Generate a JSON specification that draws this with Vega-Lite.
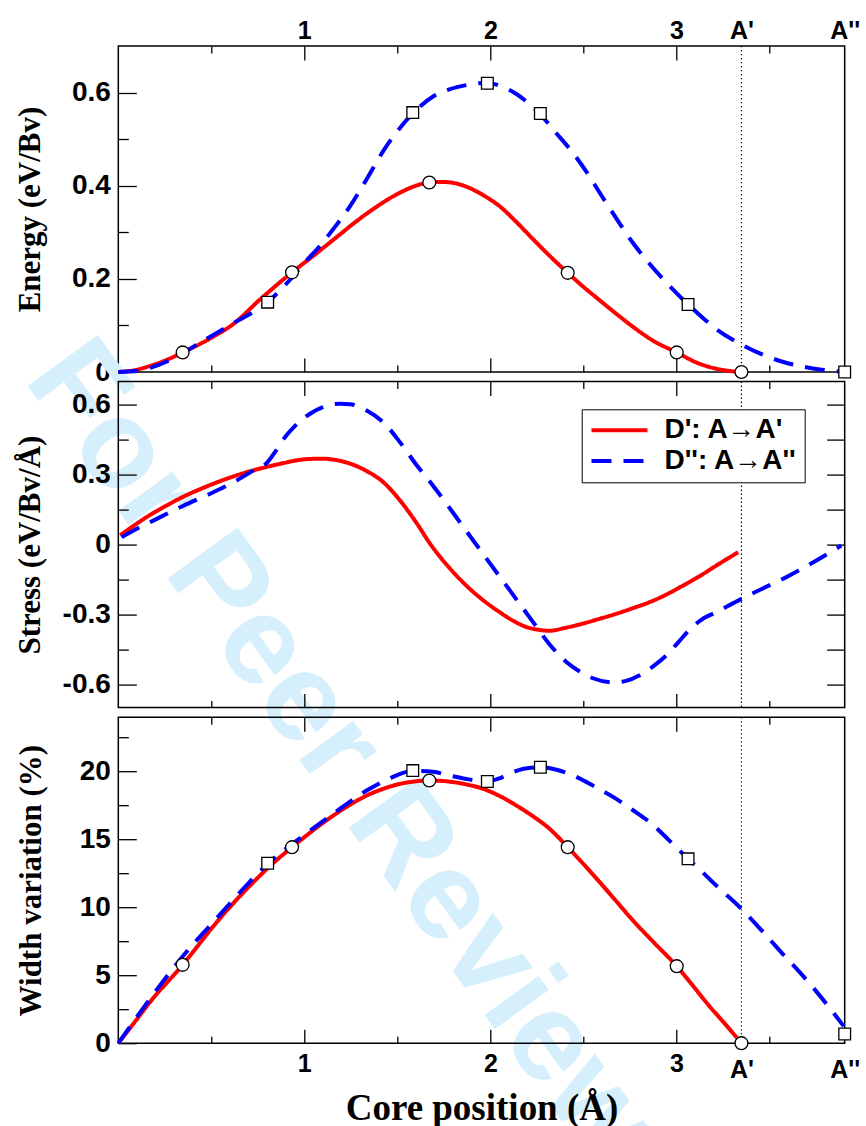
{
"$schema": "https://vega.github.io/schema/vega-lite/v6.json",
"background": "white",
"padding": {"left": 1.3, "top": 17, "right": 0, "bottom": 0},
"bounds": "flush",
"spacing": 9.6,
"resolve": {"scale": {"color": "independent", "strokeDash": "independent", "shape": "independent", "size": "independent"}},
"config": {
  "view": {"stroke": "black", "strokeWidth": 1.5},
  "axis": {"grid": false, "domain": false, "tickColor": "black", "tickWidth": 1.3, "labelColor": "black", "titleColor": "black", "labelFont": "Liberation Sans", "labelFontWeight": "bold", "labelFontSize": 28, "titleFont": "Liberation Serif", "titleFontWeight": "bold", "titleFontSize": 31, "labelOverlap": false, "labelFlush": false, "labelBound": false},
  "axisX": {"labelFontSize": 25}
},
"datasets": {
  "wmark": [{"text": "For Peer Review", "x": 1.035, "y": -0.867}],
  "refs": [{"label": "A'", "x": 3.35}],
  "energyCurve": [
    {"s": "D': A→A'", "x": 0, "y": 0}, {"s": "D': A→A'", "x": 0.09, "y": 0.004}, {"s": "D': A→A'", "x": 0.17, "y": 0.013}, {"s": "D': A→A'", "x": 0.26, "y": 0.026}, {"s": "D': A→A'", "x": 0.346, "y": 0.042}, {"s": "D': A→A'", "x": 0.48, "y": 0.069}, {"s": "D': A→A'", "x": 0.618, "y": 0.103}, {"s": "D': A→A'", "x": 0.76, "y": 0.155}, {"s": "D': A→A'", "x": 0.934, "y": 0.214}, {"s": "D': A→A'", "x": 1.05, "y": 0.25}, {"s": "D': A→A'", "x": 1.156, "y": 0.284}, {"s": "D': A→A'", "x": 1.335, "y": 0.34}, {"s": "D': A→A'", "x": 1.514, "y": 0.385}, {"s": "D': A→A'", "x": 1.6, "y": 0.4}, {"s": "D': A→A'", "x": 1.672, "y": 0.407}, {"s": "D': A→A'", "x": 1.75, "y": 0.408}, {"s": "D': A→A'", "x": 1.871, "y": 0.398}, {"s": "D': A→A'", "x": 1.96, "y": 0.38}, {"s": "D': A→A'", "x": 2.05, "y": 0.356}, {"s": "D': A→A'", "x": 2.14, "y": 0.322}, {"s": "D': A→A'", "x": 2.23, "y": 0.285}, {"s": "D': A→A'", "x": 2.32, "y": 0.249}, {"s": "D': A→A'", "x": 2.416, "y": 0.213}, {"s": "D': A→A'", "x": 2.5, "y": 0.183}, {"s": "D': A→A'", "x": 2.588, "y": 0.154}, {"s": "D': A→A'", "x": 2.677, "y": 0.125}, {"s": "D': A→A'", "x": 2.767, "y": 0.097}, {"s": "D': A→A'", "x": 2.88, "y": 0.066}, {"s": "D': A→A'", "x": 3.002, "y": 0.042}, {"s": "D': A→A'", "x": 3.11, "y": 0.02}, {"s": "D': A→A'", "x": 3.215, "y": 0.007}, {"s": "D': A→A'", "x": 3.29, "y": 0.002}, {"s": "D': A→A'", "x": 3.35, "y": 0},
    {"s": "D'': A→A''", "x": 0, "y": 0}, {"s": "D'': A→A''", "x": 0.09, "y": 0.002}, {"s": "D'': A→A''", "x": 0.171, "y": 0.009}, {"s": "D'': A→A''", "x": 0.3, "y": 0.03}, {"s": "D'': A→A''", "x": 0.44, "y": 0.063}, {"s": "D'': A→A''", "x": 0.62, "y": 0.105}, {"s": "D'': A→A''", "x": 0.803, "y": 0.15}, {"s": "D'': A→A''", "x": 0.934, "y": 0.203}, {"s": "D'': A→A''", "x": 1.013, "y": 0.24}, {"s": "D'': A→A''", "x": 1.067, "y": 0.263}, {"s": "D'': A→A''", "x": 1.156, "y": 0.307}, {"s": "D'': A→A''", "x": 1.246, "y": 0.356}, {"s": "D'': A→A''", "x": 1.335, "y": 0.414}, {"s": "D'': A→A''", "x": 1.425, "y": 0.475}, {"s": "D'': A→A''", "x": 1.51, "y": 0.522}, {"s": "D'': A→A''", "x": 1.583, "y": 0.555}, {"s": "D'': A→A''", "x": 1.694, "y": 0.592}, {"s": "D'': A→A''", "x": 1.78, "y": 0.607}, {"s": "D'': A→A''", "x": 1.871, "y": 0.616}, {"s": "D'': A→A''", "x": 1.984, "y": 0.621}, {"s": "D'': A→A''", "x": 2.06, "y": 0.613}, {"s": "D'': A→A''", "x": 2.14, "y": 0.597}, {"s": "D'': A→A''", "x": 2.2, "y": 0.579}, {"s": "D'': A→A''", "x": 2.269, "y": 0.553}, {"s": "D'': A→A''", "x": 2.35, "y": 0.515}, {"s": "D'': A→A''", "x": 2.445, "y": 0.47}, {"s": "D'': A→A''", "x": 2.52, "y": 0.428}, {"s": "D'': A→A''", "x": 2.588, "y": 0.385}, {"s": "D'': A→A''", "x": 2.677, "y": 0.33}, {"s": "D'': A→A''", "x": 2.767, "y": 0.277}, {"s": "D'': A→A''", "x": 2.857, "y": 0.232}, {"s": "D'': A→A''", "x": 2.946, "y": 0.192}, {"s": "D'': A→A''", "x": 3.063, "y": 0.145}, {"s": "D'': A→A''", "x": 3.14, "y": 0.117}, {"s": "D'': A→A''", "x": 3.215, "y": 0.092}, {"s": "D'': A→A''", "x": 3.35, "y": 0.059}, {"s": "D'': A→A''", "x": 3.484, "y": 0.034}, {"s": "D'': A→A''", "x": 3.58, "y": 0.021}, {"s": "D'': A→A''", "x": 3.663, "y": 0.013}, {"s": "D'': A→A''", "x": 3.78, "y": 0.005}, {"s": "D'': A→A''", "x": 3.905, "y": 0}
  ],
  "energyPts": [
    {"s": "D': A→A'", "x": 0.346, "y": 0.042}, {"s": "D': A→A'", "x": 0.934, "y": 0.214}, {"s": "D': A→A'", "x": 1.672, "y": 0.407}, {"s": "D': A→A'", "x": 2.416, "y": 0.213}, {"s": "D': A→A'", "x": 3.002, "y": 0.042}, {"s": "D': A→A'", "x": 3.35, "y": 0},
    {"s": "D'': A→A''", "x": 0.803, "y": 0.15}, {"s": "D'': A→A''", "x": 1.583, "y": 0.557}, {"s": "D'': A→A''", "x": 1.984, "y": 0.62}, {"s": "D'': A→A''", "x": 2.269, "y": 0.555}, {"s": "D'': A→A''", "x": 3.063, "y": 0.145}, {"s": "D'': A→A''", "x": 3.905, "y": 0}
  ],
  "stressCurve": [
    {"s": "D': A→A'", "x": 0.01, "y": 0.04}, {"s": "D': A→A'", "x": 0.09, "y": 0.085}, {"s": "D': A→A'", "x": 0.17, "y": 0.127}, {"s": "D': A→A'", "x": 0.26, "y": 0.168}, {"s": "D': A→A'", "x": 0.35, "y": 0.206}, {"s": "D': A→A'", "x": 0.44, "y": 0.238}, {"s": "D': A→A'", "x": 0.529, "y": 0.267}, {"s": "D': A→A'", "x": 0.62, "y": 0.293}, {"s": "D': A→A'", "x": 0.708, "y": 0.315}, {"s": "D': A→A'", "x": 0.8, "y": 0.334}, {"s": "D': A→A'", "x": 0.887, "y": 0.35}, {"s": "D': A→A'", "x": 0.96, "y": 0.362}, {"s": "D': A→A'", "x": 1.031, "y": 0.368}, {"s": "D': A→A'", "x": 1.1, "y": 0.369}, {"s": "D': A→A'", "x": 1.156, "y": 0.365}, {"s": "D': A→A'", "x": 1.245, "y": 0.348}, {"s": "D': A→A'", "x": 1.335, "y": 0.316}, {"s": "D': A→A'", "x": 1.425, "y": 0.268}, {"s": "D': A→A'", "x": 1.514, "y": 0.19}, {"s": "D': A→A'", "x": 1.604, "y": 0.092}, {"s": "D': A→A'", "x": 1.676, "y": 0.004}, {"s": "D': A→A'", "x": 1.78, "y": -0.1}, {"s": "D': A→A'", "x": 1.871, "y": -0.176}, {"s": "D': A→A'", "x": 1.96, "y": -0.238}, {"s": "D': A→A'", "x": 2.05, "y": -0.29}, {"s": "D': A→A'", "x": 2.12, "y": -0.326}, {"s": "D': A→A'", "x": 2.194, "y": -0.354}, {"s": "D': A→A'", "x": 2.26, "y": -0.366}, {"s": "D': A→A'", "x": 2.319, "y": -0.37}, {"s": "D': A→A'", "x": 2.4, "y": -0.358}, {"s": "D': A→A'", "x": 2.498, "y": -0.339}, {"s": "D': A→A'", "x": 2.59, "y": -0.318}, {"s": "D': A→A'", "x": 2.677, "y": -0.297}, {"s": "D': A→A'", "x": 2.77, "y": -0.272}, {"s": "D': A→A'", "x": 2.857, "y": -0.247}, {"s": "D': A→A'", "x": 2.95, "y": -0.213}, {"s": "D': A→A'", "x": 3.036, "y": -0.176}, {"s": "D': A→A'", "x": 3.13, "y": -0.133}, {"s": "D': A→A'", "x": 3.215, "y": -0.09}, {"s": "D': A→A'", "x": 3.28, "y": -0.058}, {"s": "D': A→A'", "x": 3.332, "y": -0.033},
    {"s": "D'': A→A''", "x": 0.018, "y": 0.032}, {"s": "D'': A→A''", "x": 0.1, "y": 0.068}, {"s": "D'': A→A''", "x": 0.188, "y": 0.103}, {"s": "D'': A→A''", "x": 0.35, "y": 0.167}, {"s": "D'': A→A''", "x": 0.511, "y": 0.225}, {"s": "D'': A→A''", "x": 0.62, "y": 0.268}, {"s": "D'': A→A''", "x": 0.726, "y": 0.318}, {"s": "D'': A→A''", "x": 0.8, "y": 0.352}, {"s": "D'': A→A''", "x": 0.845, "y": 0.4}, {"s": "D'': A→A''", "x": 0.887, "y": 0.452}, {"s": "D'': A→A''", "x": 0.95, "y": 0.51}, {"s": "D'': A→A''", "x": 1.031, "y": 0.562}, {"s": "D'': A→A''", "x": 1.1, "y": 0.59}, {"s": "D'': A→A''", "x": 1.192, "y": 0.605}, {"s": "D'': A→A''", "x": 1.246, "y": 0.603}, {"s": "D'': A→A''", "x": 1.335, "y": 0.576}, {"s": "D'': A→A''", "x": 1.425, "y": 0.525}, {"s": "D'': A→A''", "x": 1.514, "y": 0.44}, {"s": "D'': A→A''", "x": 1.6, "y": 0.345}, {"s": "D'': A→A''", "x": 1.692, "y": 0.253}, {"s": "D'': A→A''", "x": 1.871, "y": 0.058}, {"s": "D'': A→A''", "x": 2.05, "y": -0.137}, {"s": "D'': A→A''", "x": 2.23, "y": -0.333}, {"s": "D'': A→A''", "x": 2.32, "y": -0.43}, {"s": "D'': A→A''", "x": 2.409, "y": -0.504}, {"s": "D'': A→A''", "x": 2.48, "y": -0.545}, {"s": "D'': A→A''", "x": 2.552, "y": -0.574}, {"s": "D'': A→A''", "x": 2.66, "y": -0.592}, {"s": "D'': A→A''", "x": 2.73, "y": -0.585}, {"s": "D'': A→A''", "x": 2.803, "y": -0.561}, {"s": "D'': A→A''", "x": 2.88, "y": -0.52}, {"s": "D'': A→A''", "x": 2.946, "y": -0.476}, {"s": "D'': A→A''", "x": 3.01, "y": -0.42}, {"s": "D'': A→A''", "x": 3.072, "y": -0.365}, {"s": "D'': A→A''", "x": 3.13, "y": -0.325}, {"s": "D'': A→A''", "x": 3.215, "y": -0.29}, {"s": "D'': A→A''", "x": 3.35, "y": -0.233}, {"s": "D'': A→A''", "x": 3.46, "y": -0.19}, {"s": "D'': A→A''", "x": 3.574, "y": -0.147}, {"s": "D'': A→A''", "x": 3.66, "y": -0.11}, {"s": "D'': A→A''", "x": 3.753, "y": -0.068}, {"s": "D'': A→A''", "x": 3.887, "y": -0.004}
  ],
  "widthCurve": [
    {"s": "D': A→A'", "x": 0, "y": 0}, {"s": "D': A→A'", "x": 0.085, "y": 1.5}, {"s": "D': A→A'", "x": 0.17, "y": 3.02}, {"s": "D': A→A'", "x": 0.346, "y": 5.77}, {"s": "D': A→A'", "x": 0.529, "y": 8.91}, {"s": "D': A→A'", "x": 0.708, "y": 11.6}, {"s": "D': A→A'", "x": 0.82, "y": 13.1}, {"s": "D': A→A'", "x": 0.934, "y": 14.43}, {"s": "D': A→A'", "x": 1.045, "y": 15.65}, {"s": "D': A→A'", "x": 1.156, "y": 16.76}, {"s": "D': A→A'", "x": 1.245, "y": 17.55}, {"s": "D': A→A'", "x": 1.335, "y": 18.23}, {"s": "D': A→A'", "x": 1.425, "y": 18.73}, {"s": "D': A→A'", "x": 1.514, "y": 19.09}, {"s": "D': A→A'", "x": 1.6, "y": 19.28}, {"s": "D': A→A'", "x": 1.672, "y": 19.34}, {"s": "D': A→A'", "x": 1.75, "y": 19.3}, {"s": "D': A→A'", "x": 1.871, "y": 19.05}, {"s": "D': A→A'", "x": 1.961, "y": 18.73}, {"s": "D': A→A'", "x": 2.05, "y": 18.2}, {"s": "D': A→A'", "x": 2.14, "y": 17.5}, {"s": "D': A→A'", "x": 2.23, "y": 16.7}, {"s": "D': A→A'", "x": 2.319, "y": 15.78}, {"s": "D': A→A'", "x": 2.416, "y": 14.43}, {"s": "D': A→A'", "x": 2.5, "y": 13.2}, {"s": "D': A→A'", "x": 2.588, "y": 11.86}, {"s": "D': A→A'", "x": 2.677, "y": 10.45}, {"s": "D': A→A'", "x": 2.767, "y": 9.03}, {"s": "D': A→A'", "x": 2.88, "y": 7.4}, {"s": "D': A→A'", "x": 3.002, "y": 5.67}, {"s": "D': A→A'", "x": 3.085, "y": 4.3}, {"s": "D': A→A'", "x": 3.17, "y": 2.85}, {"s": "D': A→A'", "x": 3.26, "y": 1.45}, {"s": "D': A→A'", "x": 3.35, "y": 0},
    {"s": "D'': A→A''", "x": 0, "y": 0}, {"s": "D'': A→A''", "x": 0.085, "y": 1.65}, {"s": "D'': A→A''", "x": 0.17, "y": 3.26}, {"s": "D'': A→A''", "x": 0.35, "y": 6.45}, {"s": "D'': A→A''", "x": 0.529, "y": 9.2}, {"s": "D'': A→A''", "x": 0.708, "y": 11.9}, {"s": "D'': A→A''", "x": 0.803, "y": 13.2}, {"s": "D'': A→A''", "x": 0.977, "y": 15.1}, {"s": "D'': A→A''", "x": 1.156, "y": 16.9}, {"s": "D'': A→A''", "x": 1.335, "y": 18.6}, {"s": "D'': A→A''", "x": 1.46, "y": 19.5}, {"s": "D'': A→A''", "x": 1.583, "y": 20.05}, {"s": "D'': A→A''", "x": 1.692, "y": 19.98}, {"s": "D'': A→A''", "x": 1.78, "y": 19.7}, {"s": "D'': A→A''", "x": 1.871, "y": 19.45}, {"s": "D'': A→A''", "x": 1.984, "y": 19.27}, {"s": "D'': A→A''", "x": 2.05, "y": 19.5}, {"s": "D'': A→A''", "x": 2.104, "y": 19.85}, {"s": "D'': A→A''", "x": 2.18, "y": 20.2}, {"s": "D'': A→A''", "x": 2.269, "y": 20.32}, {"s": "D'': A→A''", "x": 2.35, "y": 20.15}, {"s": "D'': A→A''", "x": 2.445, "y": 19.71}, {"s": "D'': A→A''", "x": 2.56, "y": 18.9}, {"s": "D'': A→A''", "x": 2.677, "y": 17.99}, {"s": "D'': A→A''", "x": 2.767, "y": 17.15}, {"s": "D'': A→A''", "x": 2.857, "y": 16.27}, {"s": "D'': A→A''", "x": 2.96, "y": 14.95}, {"s": "D'': A→A''", "x": 3.063, "y": 13.57}, {"s": "D'': A→A''", "x": 3.14, "y": 12.6}, {"s": "D'': A→A''", "x": 3.215, "y": 11.6}, {"s": "D'': A→A''", "x": 3.35, "y": 9.89}, {"s": "D'': A→A''", "x": 3.484, "y": 7.92}, {"s": "D'': A→A''", "x": 3.57, "y": 6.6}, {"s": "D'': A→A''", "x": 3.663, "y": 5.23}, {"s": "D'': A→A''", "x": 3.75, "y": 3.85}, {"s": "D'': A→A''", "x": 3.842, "y": 2.28}, {"s": "D'': A→A''", "x": 3.9, "y": 1.25}
  ],
  "widthPts": [
    {"s": "D': A→A'", "x": 0.346, "y": 5.77}, {"s": "D': A→A'", "x": 0.934, "y": 14.43}, {"s": "D': A→A'", "x": 1.672, "y": 19.34}, {"s": "D': A→A'", "x": 2.416, "y": 14.43}, {"s": "D': A→A'", "x": 3.002, "y": 5.67}, {"s": "D': A→A'", "x": 3.35, "y": 0},
    {"s": "D'': A→A''", "x": 0.803, "y": 13.25}, {"s": "D'': A→A''", "x": 1.583, "y": 20.07}, {"s": "D'': A→A''", "x": 1.984, "y": 19.27}, {"s": "D'': A→A''", "x": 2.269, "y": 20.32}, {"s": "D'': A→A''", "x": 3.063, "y": 13.57}, {"s": "D'': A→A''", "x": 3.905, "y": 0.68}
  ]
},
"vconcat": [
  {
    "width": 726.4, "height": 326,
    "resolve": {"axis": {"x": "independent", "y": "independent"}},
    "layer": [
      {"data": {"name": "wmark"},
       "mark": {"type": "text", "angle": 54, "fontSize": 126, "font": "Liberation Sans", "fontWeight": "bold", "color": "#d5effc", "align": "center", "baseline": "alphabetic"},
       "encoding": {
         "x": {"field": "x", "type": "quantitative", "scale": {"domain": [0, 3.905], "nice": false, "zero": false},
               "axis": {"orient": "top", "ticks": false, "title": null, "values": [1, 2, 3, 3.35, 3.905], "labelExpr": "datum.value > 3.9 ? \"A''\" : (datum.value > 3.3 ? \"A'\" : datum.label)", "labelPadding": 3}},
         "y": {"field": "y", "type": "quantitative", "scale": {"domain": [0, 0.7], "nice": false, "zero": false},
               "axis": {"orient": "left", "labels": false, "title": null, "tickSize": -10, "values": [0.1, 0.3, 0.5]}},
         "text": {"field": "text", "type": "nominal"}}},
      {"data": {"name": "refs"},
       "mark": {"type": "rule", "color": "black", "strokeWidth": 1.2, "strokeDash": [1.3, 2.7]},
       "encoding": {
         "x": {"field": "x", "type": "quantitative", "scale": {"domain": [0, 3.905], "nice": false, "zero": false},
               "axis": {"orient": "top", "labels": false, "title": null, "tickSize": -14, "values": [1, 2, 3]}},
         "y": {"datum": 0.7, "type": "quantitative", "scale": {"domain": [0, 0.7], "nice": false, "zero": false}, "axis": null},
         "y2": {"datum": 0}}},
      {"data": {"name": "energyCurve"},
       "mark": {"type": "line", "interpolate": "monotone", "strokeWidth": 4},
       "encoding": {
         "x": {"field": "x", "type": "quantitative", "scale": {"domain": [0, 3.905], "nice": false, "zero": false},
               "axis": {"orient": "bottom", "labels": false, "title": null, "tickSize": -14, "values": [1, 2, 3]}},
         "y": {"field": "y", "type": "quantitative", "scale": {"domain": [0, 0.7], "nice": false, "zero": false},
               "axis": {"orient": "left", "ticks": false, "title": "Energy (eV/Bv)", "values": [0, 0.2, 0.4, 0.6], "labelExpr": "datum.value == 0 ? '0' : datum.label", "labelPadding": 8, "titlePadding": 25}},
         "color": {"field": "s", "type": "nominal", "scale": {"domain": ["D': A→A'", "D'': A→A''"], "range": ["#ff0000", "#0000ff"]}, "legend": null},
         "strokeDash": {"field": "s", "type": "nominal", "scale": {"domain": ["D': A→A'", "D'': A→A''"], "range": [[1, 0], [20, 12]]}, "legend": null}}},
      {"data": {"name": "energyPts"},
       "mark": {"type": "point", "filled": true, "fill": "white", "stroke": "black", "strokeWidth": 1.3, "opacity": 1},
       "encoding": {
         "x": {"field": "x", "type": "quantitative", "scale": {"domain": [0, 3.905], "nice": false, "zero": false},
               "axis": {"orient": "bottom", "labels": false, "title": null, "tickSize": -7, "values": [0.5, 1.5, 2.5, 3.5]}},
         "y": {"field": "y", "type": "quantitative", "scale": {"domain": [0, 0.7], "nice": false, "zero": false},
               "axis": {"orient": "left", "labels": false, "title": null, "tickSize": -18, "values": [0, 0.2, 0.4, 0.6]}},
         "shape": {"field": "s", "type": "nominal", "scale": {"domain": ["D': A→A'", "D'': A→A''"], "range": ["circle", "square"]}, "legend": null},
         "size": {"field": "s", "type": "ordinal", "scale": {"domain": ["D': A→A'", "D'': A→A''"], "range": [165, 137]}, "legend": null}}},
      {"data": {"name": "refs"},
       "mark": {"type": "point", "opacity": 0},
       "encoding": {
         "x": {"field": "x", "type": "quantitative", "scale": {"domain": [0, 3.905], "nice": false, "zero": false},
               "axis": {"orient": "top", "labels": false, "title": null, "tickSize": -7, "values": [0.5, 1.5, 2.5, 3.5]}},
         "y": {"datum": 0, "type": "quantitative", "scale": {"domain": [0, 0.7], "nice": false, "zero": false}, "axis": null}}}
    ]
  },
  {
    "width": 726.4, "height": 326,
    "resolve": {"axis": {"x": "independent", "y": "independent"}},
    "layer": [
      {"data": {"name": "refs"},
       "mark": {"type": "rule", "color": "black", "strokeWidth": 1.2, "strokeDash": [1.3, 2.7]},
       "encoding": {
         "x": {"field": "x", "type": "quantitative", "scale": {"domain": [0, 3.905], "nice": false, "zero": false},
               "axis": {"orient": "top", "labels": false, "title": null, "tickSize": -14, "values": [1, 2, 3]}},
         "y": {"datum": 0.7, "type": "quantitative", "scale": {"domain": [-0.7, 0.7], "nice": false, "zero": false},
               "axis": {"orient": "right", "labels": false, "title": null, "tickSize": -18, "values": [-0.6, -0.45, -0.3, -0.15, 0, 0.15, 0.3, 0.45, 0.6]}},
         "y2": {"datum": -0.7}}},
      {"data": {"name": "stressCurve"},
       "mark": {"type": "line", "interpolate": "monotone", "strokeWidth": 4},
       "encoding": {
         "x": {"field": "x", "type": "quantitative", "scale": {"domain": [0, 3.905], "nice": false, "zero": false},
               "axis": {"orient": "bottom", "labels": false, "title": null, "tickSize": -14, "values": [1, 2, 3]}},
         "y": {"field": "y", "type": "quantitative", "scale": {"domain": [-0.7, 0.7], "nice": false, "zero": false},
               "axis": {"orient": "left", "ticks": false, "title": "Stress (eV/Bv/Å)", "values": [-0.6, -0.3, 0, 0.3, 0.6], "labelExpr": "datum.value == 0 ? '0' : replace(datum.label, '−', '-')", "labelPadding": 8, "titlePadding": 16}},
         "color": {"field": "s", "type": "nominal", "scale": {"domain": ["D': A→A'", "D'': A→A''"], "range": ["#ff0000", "#0000ff"]},
                   "legend": {"orient": "none", "legendX": 463.4, "legendY": 27.7, "title": null, "symbolType": "M-2.8,0H2.8", "symbolSize": 400, "symbolStrokeWidth": 4, "symbolOffset": 16.8, "labelFont": "Liberation Sans", "labelFontSize": 28, "labelFontWeight": "bold", "labelColor": "black", "labelOffset": 31, "rowPadding": 2.7, "padding": 7, "strokeColor": "black", "fillColor": "white", "labelLimit": 400}},
         "strokeDash": {"field": "s", "type": "nominal", "scale": {"domain": ["D': A→A'", "D'': A→A''"], "range": [[1, 0], [20, 12]]},
                   "legend": {"orient": "none", "legendX": 463.4, "legendY": 27.7, "title": null, "symbolType": "M-2.8,0H2.8", "symbolSize": 400, "symbolStrokeWidth": 4, "symbolOffset": 16.8, "labelFont": "Liberation Sans", "labelFontSize": 28, "labelFontWeight": "bold", "labelColor": "black", "labelOffset": 31, "rowPadding": 2.7, "padding": 7, "strokeColor": "black", "fillColor": "white", "labelLimit": 400}}}},
      {"data": {"name": "refs"},
       "mark": {"type": "point", "opacity": 0},
       "encoding": {
         "x": {"field": "x", "type": "quantitative", "scale": {"domain": [0, 3.905], "nice": false, "zero": false},
               "axis": {"orient": "bottom", "labels": false, "title": null, "tickSize": -7, "values": [0.5, 1.5, 2.5, 3.5]}},
         "y": {"datum": 0, "type": "quantitative", "scale": {"domain": [-0.7, 0.7], "nice": false, "zero": false},
               "axis": {"orient": "left", "labels": false, "title": null, "tickSize": -18, "values": [-0.6, -0.3, 0, 0.3, 0.6]}}}},
      {"data": {"name": "refs"},
       "mark": {"type": "point", "opacity": 0},
       "encoding": {
         "x": {"field": "x", "type": "quantitative", "scale": {"domain": [0, 3.905], "nice": false, "zero": false},
               "axis": {"orient": "top", "labels": false, "title": null, "tickSize": -7, "values": [0.5, 1.5, 2.5, 3.5]}},
         "y": {"datum": 0, "type": "quantitative", "scale": {"domain": [-0.7, 0.7], "nice": false, "zero": false},
               "axis": {"orient": "left", "labels": false, "title": null, "tickSize": -10, "values": [-0.45, -0.15, 0.15, 0.45]}}}}
    ]
  },
  {
    "width": 726.4, "height": 326,
    "resolve": {"axis": {"x": "independent", "y": "independent"}},
    "layer": [
      {"data": {"name": "refs"},
       "mark": {"type": "rule", "color": "black", "strokeWidth": 1.2, "strokeDash": [1.3, 2.7]},
       "encoding": {
         "x": {"field": "x", "type": "quantitative", "scale": {"domain": [0, 3.905], "nice": false, "zero": false},
               "axis": {"orient": "top", "labels": false, "title": null, "tickSize": -14, "values": [1, 2, 3]}},
         "y": {"datum": 24, "type": "quantitative", "scale": {"domain": [0, 24], "nice": false, "zero": false}, "axis": null},
         "y2": {"datum": 0}}},
      {"data": {"name": "widthCurve"},
       "mark": {"type": "line", "interpolate": "monotone", "strokeWidth": 4},
       "encoding": {
         "x": {"field": "x", "type": "quantitative", "scale": {"domain": [0, 3.905], "nice": false, "zero": false},
               "axis": {"orient": "bottom", "ticks": false, "title": "Core position (Å)", "titleFontSize": 37, "values": [1, 2, 3], "labelPadding": 8.5, "titlePadding": 14}},
         "y": {"field": "y", "type": "quantitative", "scale": {"domain": [0, 24], "nice": false, "zero": false},
               "axis": {"orient": "left", "ticks": false, "title": "Width variation (%)", "values": [0, 5, 10, 15, 20], "labelPadding": 8, "titlePadding": 32}},
         "color": {"field": "s", "type": "nominal", "scale": {"domain": ["D': A→A'", "D'': A→A''"], "range": ["#ff0000", "#0000ff"]}, "legend": null},
         "strokeDash": {"field": "s", "type": "nominal", "scale": {"domain": ["D': A→A'", "D'': A→A''"], "range": [[1, 0], [20, 12]]}, "legend": null}}},
      {"data": {"name": "widthPts"},
       "mark": {"type": "point", "filled": true, "fill": "white", "stroke": "black", "strokeWidth": 1.3, "opacity": 1},
       "encoding": {
         "x": {"field": "x", "type": "quantitative", "scale": {"domain": [0, 3.905], "nice": false, "zero": false},
               "axis": {"orient": "bottom", "labels": false, "title": null, "tickSize": -14, "values": [1, 2, 3]}},
         "y": {"field": "y", "type": "quantitative", "scale": {"domain": [0, 24], "nice": false, "zero": false},
               "axis": {"orient": "left", "labels": false, "title": null, "tickSize": -18, "values": [0, 5, 10, 15, 20]}},
         "shape": {"field": "s", "type": "nominal", "scale": {"domain": ["D': A→A'", "D'': A→A''"], "range": ["circle", "square"]}, "legend": null},
         "size": {"field": "s", "type": "ordinal", "scale": {"domain": ["D': A→A'", "D'': A→A''"], "range": [165, 137]}, "legend": null}}},
      {"data": {"name": "refs"},
       "mark": {"type": "point", "opacity": 0},
       "encoding": {
         "x": {"field": "x", "type": "quantitative", "scale": {"domain": [0, 3.905], "nice": false, "zero": false},
               "axis": {"orient": "bottom", "labels": false, "title": null, "tickSize": -7, "values": [0.5, 1.5, 2.5, 3.5]}},
         "y": {"datum": 0, "type": "quantitative", "scale": {"domain": [0, 24], "nice": false, "zero": false},
               "axis": {"orient": "left", "labels": false, "title": null, "tickSize": -10, "values": [2.5, 7.5, 12.5, 17.5, 22.5]}}}},
      {"data": {"name": "refs"},
       "mark": {"type": "point", "opacity": 0},
       "encoding": {
         "x": {"field": "x", "type": "quantitative", "scale": {"domain": [0, 3.905], "nice": false, "zero": false},
               "axis": {"orient": "top", "labels": false, "title": null, "tickSize": -7, "values": [0.5, 1.5, 2.5, 3.5]}},
         "y": {"datum": 0, "type": "quantitative", "scale": {"domain": [0, 24], "nice": false, "zero": false}, "axis": null}}},
      {"data": {"name": "refs"},
       "mark": {"type": "point", "opacity": 0},
       "encoding": {
         "x": {"field": "x", "type": "quantitative", "scale": {"domain": [0, 3.905], "nice": false, "zero": false},
               "axis": {"orient": "bottom", "ticks": false, "title": null, "values": [3.35, 3.905], "labelExpr": "datum.value > 3.9 ? \"A''\" : \"A'\"", "labelPadding": 14}},
         "y": {"datum": 0, "type": "quantitative", "scale": {"domain": [0, 24], "nice": false, "zero": false}, "axis": null}}}
    ]
  }
]
}
